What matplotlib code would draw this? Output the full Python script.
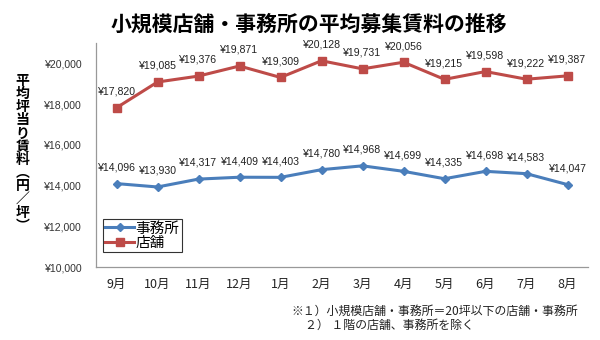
import matplotlib
matplotlib.use("Agg")
import matplotlib.pyplot as plt

plt.rcParams['font.family'] = ['Noto Sans CJK JP', 'DejaVu Sans']

months = ["9月", "10月", "11月", "12月", "1月", "2月", "3月", "4月", "5月", "6月", "7月", "8月"]
office = [14096, 13930, 14317, 14409, 14403, 14780, 14968, 14699, 14335, 14698, 14583, 14047]
shop = [17820, 19085, 19376, 19871, 19309, 20128, 19731, 20056, 19215, 19598, 19222, 19387]
yticks = [10000, 12000, 14000, 16000, 18000, 20000]

title = "小規模店舗・事務所の平均募集賃料の推移"
ylabel = "平均坪当り賃料︵円／坪︶"
notes = ["※１）小規模店舗・事務所＝20坪以下の店舗・事務所",
         "２） １階の店舗、事務所を除く"]

blue = "#4A7EBB"
red = "#BE4B48"

fig = plt.figure(figsize=(6, 3.4), dpi=100)
ax = fig.add_axes([0.16, 0.2147, 0.82, 0.6588])

x = list(range(len(months)))
ax.plot(x, office, color=blue, lw=2.2, marker="D", ms=4.5, label="事務所")
ax.plot(x, shop, color=red, lw=2.2, marker="s", ms=6, label="店舗")

label_font = dict(family=['Liberation Sans', 'DejaVu Sans'], fontsize=7.6, color="#222222")
for xi, v in zip(x, office):
    ax.annotate(f"¥{v:,}", (xi, v), xytext=(0, 8), textcoords="offset points",
                ha="center", va="bottom", **label_font)
for xi, v in zip(x, shop):
    ax.annotate(f"¥{v:,}", (xi, v), xytext=(0, 8), textcoords="offset points",
                ha="center", va="bottom", **label_font)

ax.set_xlim(-0.5, len(months) - 0.5)
ax.set_ylim(10000, 21000)
ax.set_yticks(yticks)
ax.set_yticklabels([f"¥{t:,}" for t in yticks], family=['Liberation Sans', 'DejaVu Sans'],
                   fontsize=7.6, color="#333333")
ax.set_xticks(x)
ax.set_xticklabels(months, fontsize=9, color="#222222")
ax.tick_params(length=0)
ax.tick_params(axis="y", pad=10)
ax.tick_params(axis="x", pad=8)

for side in ("top", "right"):
    ax.spines[side].set_visible(False)
for side in ("left", "bottom"):
    ax.spines[side].set_color("#999999")
    ax.spines[side].set_linewidth(0.9)

leg = ax.legend(loc="lower left", bbox_to_anchor=(0.014, 0.065), fontsize=10.5,
                frameon=True, fancybox=False, borderpad=0.15, handlelength=2.0,
                handletextpad=0.1, labelspacing=0.05, borderaxespad=0)
leg.get_frame().set_edgecolor("#000000")
leg.get_frame().set_linewidth(0.8)

fig.text(0.515, 0.93, title, ha="center", va="center", fontsize=15, fontweight="bold")

# vertical (tategaki) axis title: one glyph per row, using vertical-form brackets
y0, step = 0.762, 0.0388
for i, ch in enumerate(ylabel):
    fig.text(0.038, y0 - i * step, ch, ha="center", va="center", fontsize=10,
             fontweight="bold")

fig.text(0.485, 0.083, notes[0], ha="left", va="center", fontsize=8.6, color="#222222")
fig.text(0.508, 0.042, notes[1], ha="left", va="center", fontsize=8.6, color="#222222")

fig.savefig("out.png", dpi=100, facecolor="white")
